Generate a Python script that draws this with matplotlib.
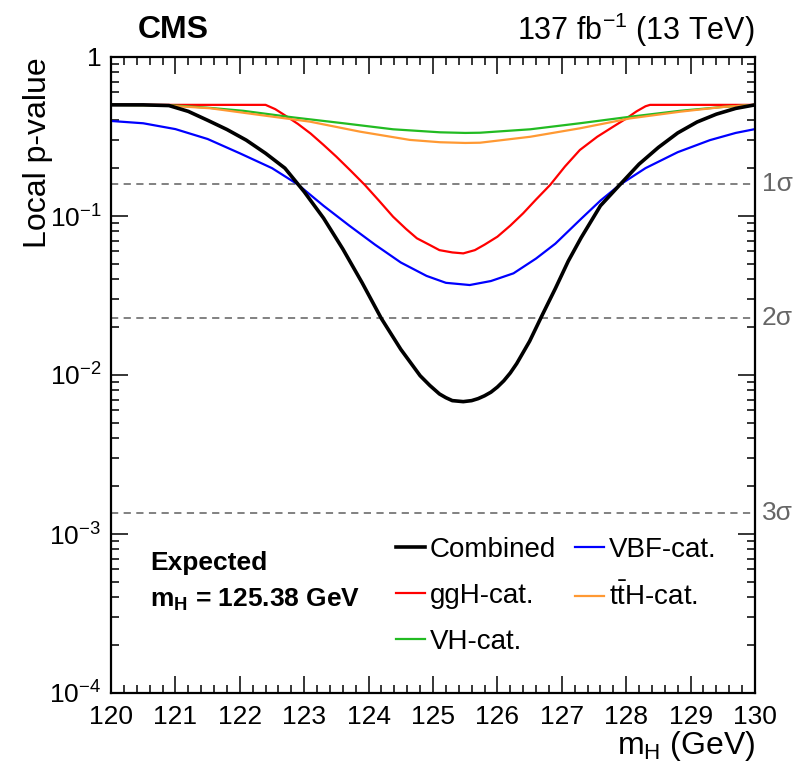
import numpy as np
import matplotlib
matplotlib.use('Agg')
from matplotlib import pyplot as plt
import matplotlib.transforms as transforms

plt.rcParams['font.family'] = ['Liberation Sans', 'DejaVu Sans']
plt.rcParams['mathtext.fontset'] = 'custom'
plt.rcParams['mathtext.rm'] = 'Liberation Sans'
plt.rcParams['mathtext.it'] = 'Liberation Sans:italic'
plt.rcParams['mathtext.bf'] = 'Liberation Sans:bold'

#expected local p-values
mh_comb = [120, 120.5, 120.9, 121.2, 121.5, 121.8, 122.1, 122.4, 122.7, 123.0, 123.3, 123.6,
           123.9, 124.2, 124.5, 124.8, 124.95, 125.1, 125.2, 125.3, 125.47, 125.6, 125.7, 125.8,
           125.9, 126.0, 126.1, 126.2, 126.3, 126.5, 126.7, 126.9, 127.1, 127.3, 127.6, 127.9,
           128.2, 128.5, 128.8, 129.1, 129.4, 129.7, 130]
p_comb = [0.5, 0.5, 0.495, 0.455, 0.40, 0.35, 0.30, 0.248, 0.20, 0.142, 0.097, 0.062,
          0.038, 0.0226, 0.0145, 0.0099, 0.0086, 0.0076, 0.0072, 0.0069, 0.0068, 0.0069, 0.0071, 0.0074,
          0.0078, 0.0084, 0.0092, 0.0103, 0.0118, 0.0163, 0.024, 0.035, 0.052, 0.073, 0.116, 0.157,
          0.212, 0.27, 0.333, 0.39, 0.437, 0.475, 0.5]

mh_vbf = [120, 120.5, 121.0, 121.5, 122.0, 122.5, 122.9, 123.3, 123.7, 124.1, 124.5, 124.9, 125.2,
          125.57, 125.9, 126.25, 126.6, 126.9, 127.3, 127.6, 127.9, 128.3, 128.8, 129.3, 129.7, 130]
p_vbf = [0.396, 0.383, 0.352, 0.305, 0.248, 0.20, 0.158, 0.116, 0.087, 0.066, 0.051, 0.042, 0.038,
         0.0368, 0.039, 0.0436, 0.054, 0.067, 0.096, 0.125, 0.157, 0.20, 0.252, 0.30, 0.333, 0.352]

mh_ggh = [120, 122.4, 122.55, 122.7, 122.9, 123.1, 123.3, 123.5, 123.72, 123.94, 124.16, 124.38,
          124.58, 124.75, 124.95, 125.1, 125.3, 125.47, 125.65, 125.8, 126.0, 126.2, 126.4, 126.6,
          126.82, 127.05, 127.28, 127.55, 127.8, 128.0, 128.16, 128.3, 128.37, 130]
p_ggh = [0.5, 0.5, 0.47, 0.43, 0.38, 0.33, 0.28, 0.236, 0.193, 0.157, 0.125, 0.099,
         0.083, 0.0724, 0.0657, 0.061, 0.059, 0.0582, 0.061, 0.066, 0.0741, 0.087, 0.104, 0.127,
         0.157, 0.205, 0.26, 0.315, 0.365, 0.41, 0.455, 0.49, 0.5, 0.5]

mh_vh = [120, 121.0, 121.5, 122.05, 122.83, 123.61, 124.38, 125.11, 125.5, 125.73, 126.51,
         127.28, 128.06, 128.84, 129.5, 130]
p_vh = [0.5, 0.495, 0.48, 0.459, 0.417, 0.383, 0.351, 0.336, 0.333, 0.334, 0.351,
        0.383, 0.421, 0.459, 0.485, 0.5]

mh_tth = [120, 120.8, 121.54, 122.31, 123.09, 123.87, 124.64, 125.11, 125.5, 125.73, 126.51,
          127.28, 128.06, 128.84, 129.5, 130]
p_tth = [0.5, 0.497, 0.476, 0.432, 0.392, 0.339, 0.301, 0.291, 0.288, 0.289, 0.315,
         0.356, 0.411, 0.453, 0.485, 0.5]

#one-sided p-values of 1, 2, 3 sigma
sigma_p = [0.1587, 0.02275, 0.00135]
sigma_labels = ['1σ', '2σ', '3σ']

ytick_vals = [1e-4, 1e-3, 1e-2, 1e-1, 1]
ytick_labels = [r'10$^{-4}$', r'10$^{-3}$', r'10$^{-2}$', r'10$^{-1}$', '1']

fig = plt.figure(figsize=(7.94, 7.70), dpi=100)
ax = fig.add_axes([111/794, 1-693/770, 644/794, 636/770])

#sigma reference lines
trans = transforms.blended_transform_factory(ax.transAxes, ax.transData)
for p, lab in zip(sigma_p, sigma_labels):
    ax.axhline(p, color='#777777', ls=(0, (4, 3)), lw=1.3, zorder=1)
    ax.text(1.011, p, lab, transform=trans, ha='left', va='center',
            fontsize=19, color='#666666', clip_on=False)

l_comb, = ax.plot(mh_comb, p_comb, color='black', lw=2.6, zorder=5)
l_ggh, = ax.plot(mh_ggh, p_ggh, color='#ff0000', lw=1.6)
l_vh, = ax.plot(mh_vh, p_vh, color='#22bb22', lw=1.6)
l_vbf, = ax.plot(mh_vbf, p_vbf, color='#0000ff', lw=1.6)
l_tth, = ax.plot(mh_tth, p_tth, color='#ff9933', lw=1.6)

ax.set_yscale('log')
ax.set_xlim(120, 130)
ax.set_ylim(1e-4, 1)

ax.set_xticks(np.arange(120, 131, 1))
ax.set_xticks(np.arange(120, 130.01, 0.2), minor=True)
ax.set_yticks(ytick_vals)
ax.set_yticklabels(ytick_labels)
ax.yaxis.set_minor_locator(matplotlib.ticker.LogLocator(base=10, subs=np.arange(2, 10)))
ax.yaxis.set_minor_formatter(matplotlib.ticker.NullFormatter())

ax.tick_params(which='both', direction='in', top=True, right=True, width=1.1)
ax.tick_params(which='major', length=12)
ax.tick_params(which='minor', length=6)
ax.tick_params(axis='x', which='major', labelsize=19, pad=9)
ax.tick_params(axis='y', which='major', labelsize=19, pad=7)
for s in ax.spines.values():
    s.set_linewidth(1.6)

leg = ax.legend([l_comb, l_ggh, l_vh, l_vbf, l_tth],
                ['Combined', 'ggH-cat.', 'VH-cat.', 'VBF-cat.', r'$\mathrm{t\bar{t}}$H-cat.'],
                ncol=2, frameon=False, fontsize=20, loc='upper left',
                bbox_to_anchor=(0.443, 0.245), borderpad=0, borderaxespad=0,
                handlelength=1.05, handletextpad=0.15, columnspacing=0.7, labelspacing=0.72)

ax.text(0.0606, 0.204, 'Expected', transform=ax.transAxes, fontsize=19,
        fontweight='bold', ha='left', va='center')
ax.text(0.0606, 0.146, r'm$_{\mathbf{H}}$ = 125.38 GeV', transform=ax.transAxes, fontsize=19,
        fontweight='bold', ha='left', va='center')

#labels and header
fig.text(38/794, 1-57/770, 'Local p-value', rotation=90, ha='center', va='top', fontsize=23)
fig.text(755/794, 1-746/770, r'm$_\mathrm{H}$ (GeV)', ha='right', va='center', fontsize=23)
fig.text(138/794, 1-30/770, 'CMS', ha='left', va='center', fontsize=23, fontweight='bold')
fig.text(755/794, 1-30/770, r'137 fb$^{-1}$ (13 TeV)', ha='right', va='center', fontsize=22)

fig.savefig('out.png', dpi=100)
